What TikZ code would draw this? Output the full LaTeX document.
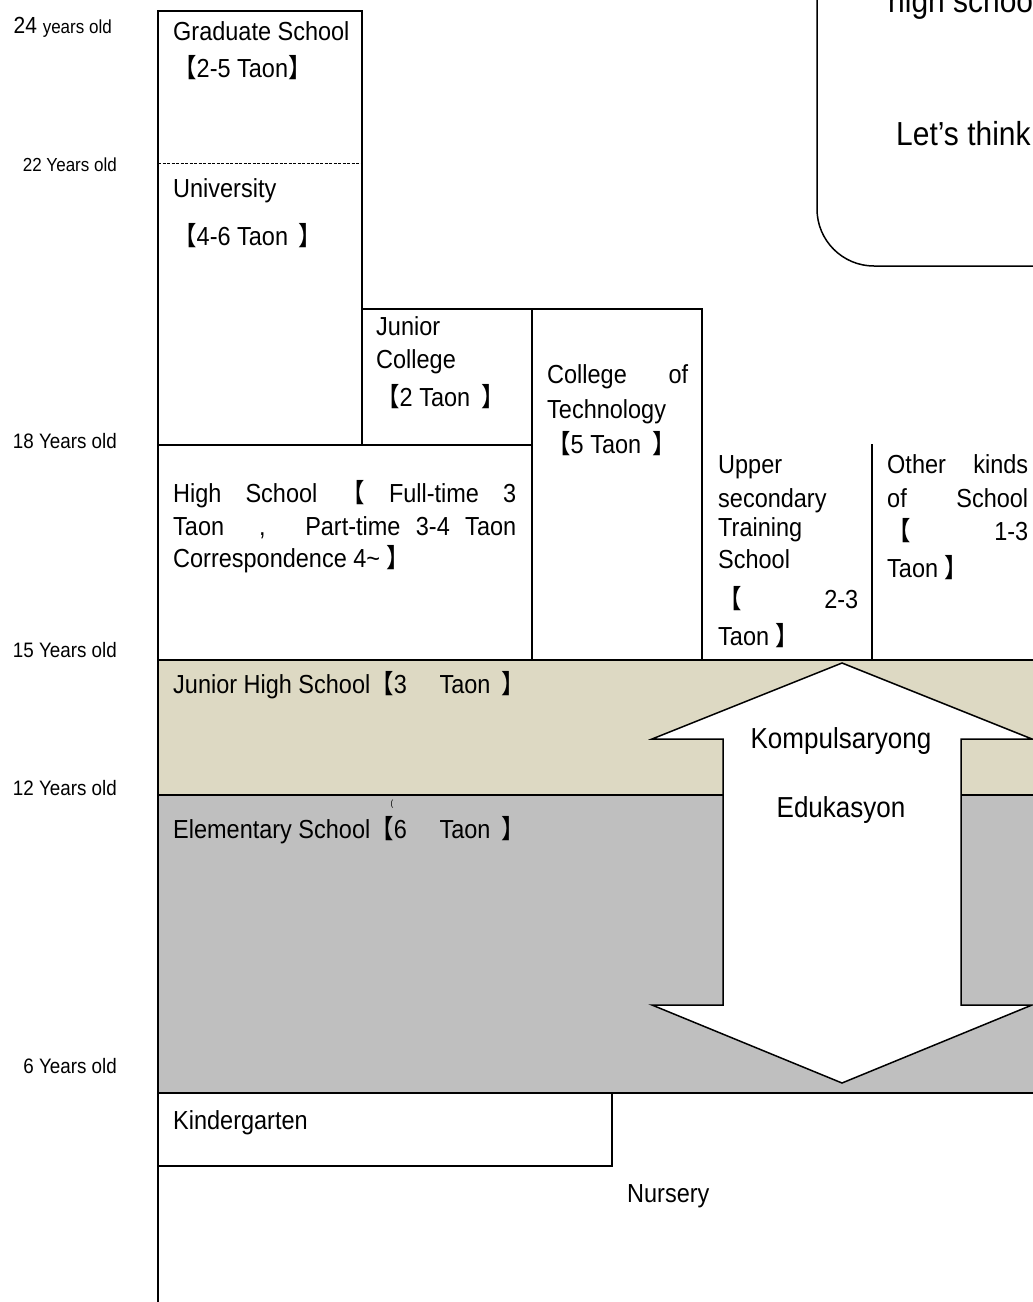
\documentclass[tikz,border=0pt]{standalone}
\usepackage{fontspec}
\setmainfont{Liberation Sans}[FakeStretch=0.9]
\newfontfamily\cjk{Noto Sans CJK SC}[FakeStretch=0.9]
\newcommand\lbk{{\cjk 【}}
\newcommand\rbk{{\cjk 】}}
\newcommand\fsz[1]{\fontsize{#1}{#1}\selectfont}
\definecolor{jhsfill}{HTML}{DDD9C3}
\definecolor{elemfill}{HTML}{BFBFBF}
\begin{document}
\begin{tikzpicture}[x=1pt,y=-1pt,
  box/.style={line width=2pt},
  txt/.style={anchor=base west, inner sep=0pt, font=\fsz{26.1}},
  age/.style={anchor=base east, inner sep=0pt, font=\fsz{20.9}}]
\useasboundingbox (0,0) rectangle (1033,1302);
\clip (0,0) rectangle (1033,1302);
\fill[white] (0,0) rectangle (1033,1302);

% bands
\fill[jhsfill] (158,660) rectangle (1045,795);
\fill[elemfill] (158,795) rectangle (1045,1093);
\draw[box] (158,660) -- (1045,660);
\draw[box] (158,795) -- (1045,795);
\draw[box] (158,1093) -- (1045,1093);

% upper boxes
\draw[box] (158,1302) -- (158,11) -- (362,11) -- (362,445);
\draw[line width=0.8pt, dash pattern=on 3pt off 1.5pt] (158,163) -- (362,163);
\draw[box] (362,445) -- (362,309) -- (702,309) -- (702,660);
\draw[box] (532,309) -- (532,660);
\draw[box] (158,445) -- (532,445);
\draw[box] (872,444) -- (872,660);
% kindergarten
\draw[box] (158,1166) -- (612,1166) -- (612,1093);

% compulsory arrow
\draw[line width=1.5pt, fill=white, line join=miter]
  (842,663) -- (1032,739) -- (961,739) -- (961,1005) -- (1032,1005)
  -- (842,1083) -- (652,1005) -- (723,1005) -- (723,739) -- (652,739) -- cycle;
\node[anchor=base, inner sep=0pt, font=\fsz{28.9}] (komp) at (841,748) {Kompulsaryong};
\node[anchor=base, inner sep=0pt, font=\fsz{28.9}] (eduk) at (841,817) {Edukasyon};

% rounded note box
\draw[line width=1.5pt, rounded corners=57pt] (817,-20) -- (817,266) -- (1060,266);
\node[anchor=base west, inner sep=0pt, font=\fsz{33.3}] (note1) at (888,12) {high school};
\node[anchor=base west, inner sep=0pt, font=\fsz{33.3}] (note2) at (896,145) {Let’s think};

% age labels
\node[anchor=base east, inner sep=0pt] (a24) at (112,33) {\fsz{23.3}24 \fsz{18.9}years old};
\node[age, font=\fsz{18.9}] (a22) at (117,171) {22 Years old};
\node[age] (a18) at (117,448) {18 Years old};
\node[age] (a15) at (117,657) {15 Years old};
\node[age] (a12) at (117,795) {12 Years old};
\node[age] (a6) at (117,1073) {6 Years old};

% school texts
\node[txt] (gs1) at (173,40) {Graduate School};
\node[txt] (gs2) at (173,77) {\lbk2-5 Taon\rbk};
\node[txt] (un1) at (173,197) {University};
\node[txt] (un2) at (173,245) {\lbk4-6 Taon \,\rbk};

\node[txt] (jc1) at (376,335) {Junior};
\node[txt] (jc2) at (376,368) {College};
\node[txt] (jc3) at (376,406) {\lbk2 Taon \,\rbk};

\node[txt] (ct1) at (547,383) {\makebox[141pt][s]{College of}};
\node[txt] (ct2) at (547,418) {Technology};
\node[txt] (ct3) at (547,453) {\lbk5 Taon \,\rbk};

\node[txt] (hs1) at (173,502) {\makebox[343pt][s]{High School \lbk{} Full-time 3}};
\node[txt] (hs2) at (173,535) {\makebox[343pt][s]{Taon \, , \, Part-time 3-4 Taon}};
\node[txt] (hs3) at (173,567) {Correspondence 4\textasciitilde{} \rbk};

\node[txt] (us1) at (718,473) {Upper};
\node[txt] (us2) at (718,507) {secondary};
\node[txt] (us3) at (718,536) {Training};
\node[txt] (us4) at (718,568) {School};
\node[txt] (us5) at (718,608) {\makebox[140pt][s]{\lbk{} 2-3}};
\node[txt] (us6) at (718,645) {Taon \rbk};

\node[txt] (ok1) at (887,473) {\makebox[141pt][s]{Other kinds}};
\node[txt] (ok2) at (887,507) {\makebox[141pt][s]{of School}};
\node[txt] (ok3) at (887,540) {\makebox[141pt][s]{\lbk{} 1-3}};
\node[txt] (ok4) at (887,577) {Taon \rbk};

\node[txt] (jhs) at (173,693) {Junior High School\lbk3 \quad Taon \,\rbk};
\node[anchor=base, inner sep=0pt, font=\fsz{9}] (paren) at (392,806) {(};
\node[txt] (el) at (173,838) {Elementary School\lbk6 \quad Taon \,\rbk};
\node[txt] (kg) at (173,1129) {Kindergarten};
\node[txt] (ns) at (627,1202) {Nursery};
\end{tikzpicture}
\end{document}
